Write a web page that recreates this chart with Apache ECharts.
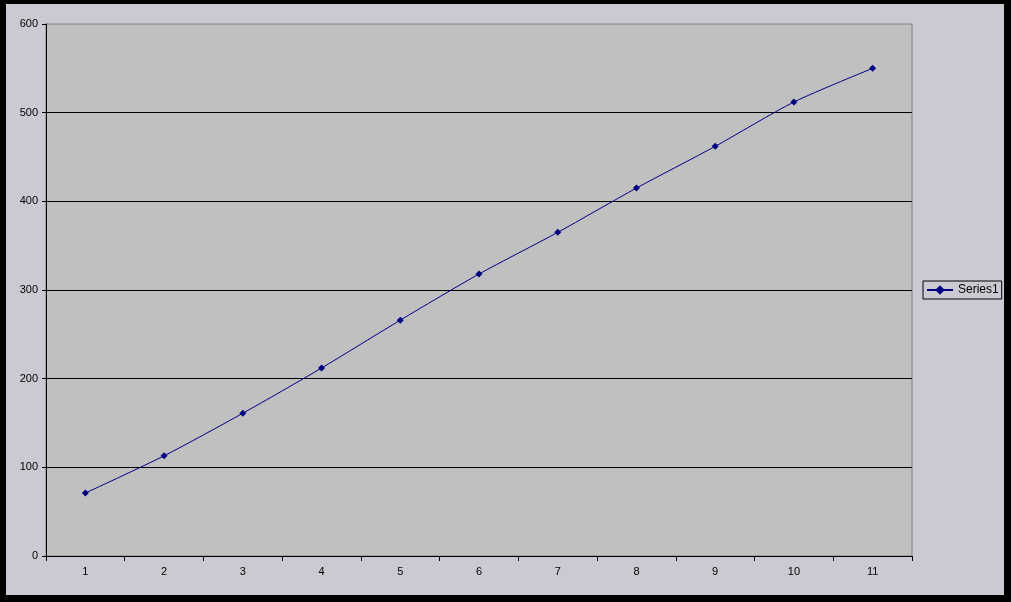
<!DOCTYPE html>
<html><head><meta charset="utf-8">
<script src="https://cdn.jsdelivr.net/npm/echarts@6/dist/echarts.min.js"></script>
<style>
html,body{margin:0;padding:0;background:#000;width:1011px;height:602px;overflow:hidden;}
#c{position:absolute;left:6px;top:4px;width:998px;height:591px;}
</style></head><body>
<div id="c"></div>
<script>
var categories = ['1','2','3','4','5','6','7','8','9','10','11'];
var series1 = [71, 113, 161, 212, 266, 318, 365, 415, 462, 512, 550];
var seriesName = 'Series1';

var chart = echarts.init(document.getElementById('c'), null, {renderer:'canvas'});
chart.setOption({
  backgroundColor: '#CBC9D1',
  animation: false,
  textStyle: {fontFamily: 'Liberation Sans, Arial, sans-serif'},
  grid: {left: 40, top: 20, width: 866, bottom: 39, show: true, backgroundColor: '#C0C0C0', borderColor: '#808080', borderWidth: 1},
  legend: {
    show: true, orient: 'vertical', left: 917, top: 277,
    borderColor: '#000', borderWidth: 1, padding: [3, 3, 3, 3], borderRadius: 0,
    itemWidth: 26, itemHeight: 12, itemGap: 0,
    textStyle: {fontSize: 12, color: '#000', fontFamily: 'Liberation Sans, Arial, sans-serif'},
    data: [seriesName]
  },
  xAxis: {
    type: 'category', data: categories, boundaryGap: true,
    axisLine: {lineStyle: {color: '#000', width: 1}},
    axisTick: {show: true, length: 5, lineStyle: {color: '#000'}, alignWithLabel: false},
    axisLabel: {color: '#000', fontSize: 11, margin: 10},
    splitLine: {show: false}
  },
  yAxis: {
    type: 'value', min: 0, max: 600, interval: 100,
    axisLine: {show: true, lineStyle: {color: '#000', width: 1}},
    axisTick: {show: true, length: 4, lineStyle: {color: '#000'}},
    axisLabel: {color: '#000', fontSize: 11, margin: 8},
    splitLine: {show: true, showMaxLine: false, lineStyle: {color: '#000', width: 1}}
  },
  series: [{
    name: seriesName, type: 'line', data: series1, smooth: 0.25,
    symbol: 'diamond', symbolSize: 7,
    lineStyle: {color: '#000080', width: 1},
    itemStyle: {color: '#000080'}
  }]
});
</script>
</body></html>
